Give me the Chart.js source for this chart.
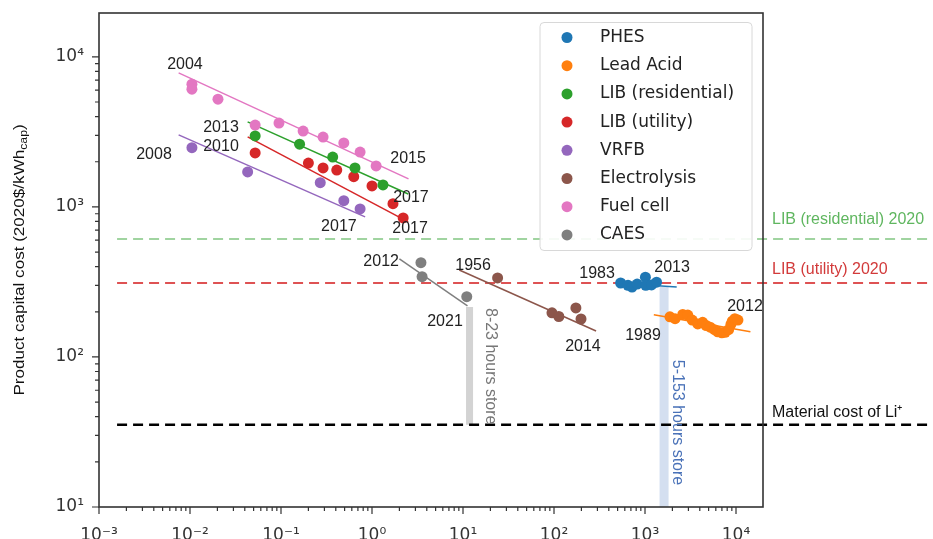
<!DOCTYPE html>
<html>
<head>
<meta charset="utf-8">
<script src="https://cdn.jsdelivr.net/npm/chart.js@4.4.1/dist/chart.umd.min.js"></script>
<style>
  html, body { margin: 0; padding: 0; background: #fff; }
</style>
</head>
<body>
<canvas id="myChart" width="933" height="539"></canvas>
<script>
const seriesNames = ['PHES', 'Lead Acid', 'LIB (residential)', 'LIB (utility)', 'VRFB', 'Electrolysis', 'Fuel cell', 'CAES'];
const seriesColors = ['#1f77b4', '#ff7f0e', '#2ca02c', '#d62728', '#9467bd', '#8c564b', '#e377c2', '#7f7f7f'];

// cumulative deployed capacity (x) vs product capital cost (y)
const phesX = [540, 650, 720, 820, 1010, 1020, 1180, 1340];
const phesY = [311, 300, 292, 306, 340, 300, 302, 315];
const leadX = [1880, 2140, 2600, 2950, 3300, 3800, 4300, 4700, 5200, 5800, 6300, 7000, 7600, 8300, 8800, 9100, 9700, 10500];
const leadY = [185, 180, 192, 190, 176, 166, 170, 162, 158, 152, 147, 145, 146, 152, 165, 173, 180, 176];
const libResX = [0.052, 0.16, 0.37, 0.65, 1.32];
const libResY = [2970, 2620, 2150, 1820, 1400];
const libUtilX = [0.052, 0.2, 0.29, 0.41, 0.63, 1.0, 1.7, 2.2];
const libUtilY = [2290, 1960, 1820, 1760, 1590, 1380, 1050, 845];
const vrfbX = [0.0105, 0.043, 0.27, 0.49, 0.74];
const vrfbY = [2480, 1710, 1450, 1100, 970];
const elecX = [24, 95, 113, 174, 198];
const elecY = [336, 197, 186, 212, 179];
const fuelX = [0.0105, 0.0105, 0.0203, 0.052, 0.095, 0.175, 0.29, 0.49, 0.74, 1.11];
const fuelY = [6580, 6090, 5220, 3510, 3620, 3200, 2920, 2670, 2320, 1875];
const caesX = [3.45, 3.55, 11.0];
const caesY = [425, 343, 252];

// fitted learning curves, [x, y] at both ends
const phesFit = [[480, 311], [2230, 293]];
const leadFit = [[1250, 191], [14400, 147]];
const libResFit = [[0.043, 3690], [2.5, 1220]];
const libUtilFit = [[0.043, 2930], [2.5, 794]];
const vrfbFit = [[0.0075, 3020], [0.84, 858]];
const elecFit = [[9.1, 380], [290, 149]];
const fuelFit = [[0.0075, 7820], [2.52, 1537]];
const caesFit = [[2.0, 450], [11.2, 219]];

// 2020 reference levels
const refNames = ['LIB (residential) 2020', 'LIB (utility) 2020', 'Material cost of Li⁺'];
const refLevels = [611, 311, 35.3];
const refColors = ['rgba(44,160,44,0.45)', 'rgba(214,39,40,0.8)', '#000'];
const refTextColors = ['#5fb65f', '#d23a3a', '#111'];

// storage duration bars
const storeNames = ['8-23 hours store', '5-153 hours store'];
const storeX = [11.8, 1620];
const storeTop = [215, 293];
const storeBottom = [35.3, 10];

// year annotations
const yearText = ['2004', '2013', '2010', '2008', '2015', '2017', '2017', '2017', '2012', '2021', '1956', '2014', '1983', '2013', '1989', '2012'];
const yearX = [0.0088, 0.0219, 0.0219, 0.00402, 2.49, 2.68, 0.433, 2.62, 1.26, 6.34, 12.9, 208, 297, 1982, 951, 12560];
const yearY = [8940, 3400, 2505, 2217, 2084, 1146, 735, 713, 430, 171, 404, 117, 358, 392, 138, 216];

const pts = (xs, ys) => xs.map((x, i) => ({ x, y: ys[i] }));
const seg = a => a.map(p => ({ x: p[0], y: p[1] }));

const scatterData = [pts(phesX, phesY), pts(leadX, leadY), pts(libResX, libResY), pts(libUtilX, libUtilY),
  pts(vrfbX, vrfbY), pts(elecX, elecY), pts(fuelX, fuelY), pts(caesX, caesY)];
const fitData = [phesFit, leadFit, libResFit, libUtilFit, vrfbFit, elecFit, fuelFit, caesFit];

const datasets = [];
scatterData.forEach((d, i) => datasets.push({
  label: seriesNames[i], data: d, backgroundColor: seriesColors[i], borderWidth: 0, pointRadius: 5.5
}));
fitData.forEach((f, i) => datasets.push({
  label: seriesNames[i] + ' fit', data: seg(f), showLine: true, pointRadius: 0,
  borderColor: seriesColors[i], borderWidth: 1.5
}));
refLevels.forEach((v, i) => datasets.push({
  label: refNames[i], data: [{ x: 0.00158, y: v }, { x: 2e6, y: v }], showLine: true, pointRadius: 0,
  borderColor: refColors[i], borderWidth: i === 2 ? 2.5 : 2, borderDash: [10, 6], clip: false
}));
storeX.forEach((x, i) => datasets.push({
  label: storeNames[i], data: [{ x, y: storeTop[i] }, { x, y: storeBottom[i] }], showLine: true, pointRadius: 0,
  borderColor: i === 0 ? '#d3d3d3' : '#d4dff0', borderWidth: i === 0 ? 7 : 9, borderCapStyle: 'butt'
}));

function logTicks(lo, hi) {
  const out = [];
  for (let e = Math.floor(Math.log10(lo)); e <= Math.ceil(Math.log10(hi)); e++) {
    for (let m = 1; m < 10; m++) {
      const v = m * Math.pow(10, e);
      if (v >= lo * 0.999 && v <= hi * 1.001) out.push({ value: v });
    }
  }
  return out;
}
const isPow = v => Math.abs(Math.log10(v) - Math.round(Math.log10(v))) < 1e-9;
const supMap = { '-': '⁻', '0': '⁰', '1': '¹', '2': '²', '3': '³', '4': '⁴', '5': '⁵', '6': '⁶', '7': '⁷', '8': '⁸', '9': '⁹' };
const powLabel = v => isPow(v) ? '10' + String(Math.round(Math.log10(v))).split('').map(c => supMap[c]).join('') : '';

const extras = {
  id: 'extras',
  afterDraw(chart) {
    const { ctx, chartArea: a, scales: { x, y } } = chart;
    ctx.save();

    // legend box
    const lx = a.right - 223, ly = a.top + 9.5;
    ctx.fillStyle = 'rgba(255,255,255,0.9)';
    ctx.strokeStyle = '#d8d8d8';
    ctx.lineWidth = 1;
    ctx.beginPath();
    ctx.roundRect(lx, ly, 212, 228, 4);
    ctx.fill();
    ctx.stroke();
    ctx.font = '17px "DejaVu Sans", sans-serif';
    ctx.textBaseline = 'middle';
    ctx.textAlign = 'left';
    seriesNames.forEach((name, i) => {
      const ry = ly + 15 + i * 28.2;
      ctx.fillStyle = seriesColors[i];
      ctx.beginPath();
      ctx.arc(lx + 27, ry, 5.5, 0, Math.PI * 2);
      ctx.fill();
      ctx.fillStyle = '#222';
      ctx.fillText(name, lx + 60, ry);
    });

    // ticks and frame
    ctx.strokeStyle = '#333';
    ctx.lineWidth = 1.2;
    ctx.beginPath();
    x.ticks.forEach(t => {
      const p = x.getPixelForValue(t.value);
      ctx.moveTo(p, a.bottom); ctx.lineTo(p, a.bottom + (isPow(t.value) ? 7 : 4));
    });
    y.ticks.forEach(t => {
      const p = y.getPixelForValue(t.value);
      ctx.moveTo(a.left, p); ctx.lineTo(a.left - (isPow(t.value) ? 7 : 4), p);
    });
    ctx.stroke();
    ctx.lineWidth = 1.6;
    ctx.strokeRect(a.left, a.top, a.right - a.left, a.bottom - a.top);

    // year annotations
    ctx.font = '16px "Liberation Sans", Arial, sans-serif';
    ctx.textAlign = 'center';
    ctx.fillStyle = '#222';
    yearText.forEach((t, i) => ctx.fillText(t, x.getPixelForValue(yearX[i]), y.getPixelForValue(yearY[i])));

    // reference line labels
    ctx.textAlign = 'left';
    const refOffset = [19, 13, 12];
    refNames.forEach((t, i) => {
      ctx.fillStyle = refTextColors[i];
      ctx.fillText(t, a.right + 9, y.getPixelForValue(refLevels[i]) - refOffset[i]);
    });

    // storage bar labels
    const storeLabelX = [19.8, 2249];
    const storeLabelTop = [212, 95.7];
    const storeTextColors = ['#777', '#4a72b8'];
    storeNames.forEach((t, i) => {
      ctx.save();
      ctx.translate(x.getPixelForValue(storeLabelX[i]), y.getPixelForValue(storeLabelTop[i]));
      ctx.rotate(Math.PI / 2);
      ctx.fillStyle = storeTextColors[i];
      ctx.fillText(t, 0, 0);
      ctx.restore();
    });

    // y axis title with subscript
    ctx.save();
    ctx.translate(20, (a.top + a.bottom) / 2 + 0);
    ctx.rotate(-Math.PI / 2);
    ctx.scale(1.22, 1);
    ctx.fillStyle = '#111';
    const big = '14px "Liberation Sans", Arial, sans-serif';
    const small = '10px "Liberation Sans", Arial, sans-serif';
    const t1 = 'Product capital cost (2020$/kWh', t2 = 'cap', t3 = ')';
    ctx.font = big; const w1 = ctx.measureText(t1).width, w3 = ctx.measureText(t3).width;
    ctx.font = small; const w2 = ctx.measureText(t2).width;
    let sx = -(w1 + w2 + w3) / 2;
    ctx.font = big; ctx.fillText(t1, sx, 0); sx += w1;
    ctx.font = small; ctx.fillText(t2, sx, 4); sx += w2;
    ctx.font = big; ctx.fillText(t3, sx, 0);
    ctx.restore();

    ctx.restore();
  }
};

new Chart(document.getElementById('myChart'), {
  type: 'scatter',
  data: { datasets },
  options: {
    responsive: false,
    animation: false,
    events: [],
    layout: { padding: { left: 0, right: 170, top: 13, bottom: 0 } },
    plugins: { legend: { display: false }, tooltip: { enabled: false } },
    scales: {
      x: {
        type: 'logarithmic', min: 1e-3, max: 1.98e4,
        afterBuildTicks: s => { s.ticks = logTicks(1e-3, 1.98e4); },
        afterFit: s => { s.height = 32; s.paddingLeft = 0; s.paddingRight = 0; },
        grid: { display: false, drawTicks: true, tickLength: 7 },
        border: { display: false },
        ticks: { autoSkip: false, maxRotation: 0, padding: 11, color: '#333', font: { family: 'DejaVu Sans', size: 17 }, callback: v => powLabel(v) }
      },
      y: {
        type: 'logarithmic', min: 10, max: 1.96e4,
        afterBuildTicks: s => { s.ticks = logTicks(10, 1.96e4); },
        afterFit: s => { s.width = 99; s.paddingTop = 0; s.paddingBottom = 0; },
        grid: { display: false, drawTicks: true, tickLength: 7 },
        border: { display: false },
        ticks: { autoSkip: false, padding: 8, color: '#333', font: { family: 'DejaVu Sans', size: 17 }, callback: v => powLabel(v) }
      }
    }
  },
  plugins: [extras]
});
</script>
</body>
</html>
